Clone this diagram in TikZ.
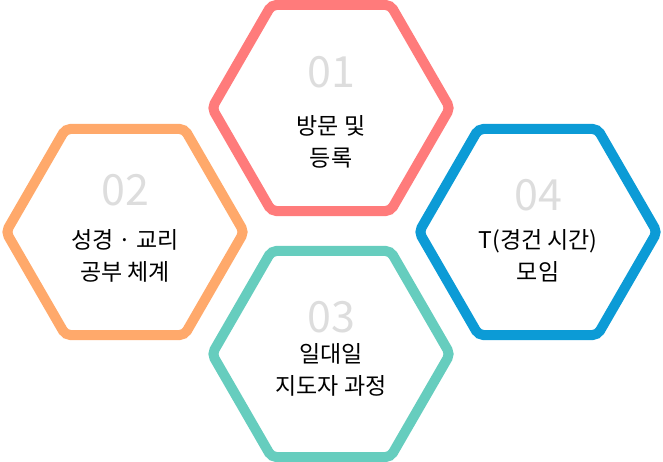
\documentclass[tikz,border=0pt]{standalone}
\usepackage{fontspec}
\setmainfont{Noto Sans CJK KR}
\usetikzlibrary{shapes.geometric}
\definecolor{c01}{HTML}{FF7B7B}
\definecolor{c02}{HTML}{FFA96B}
\definecolor{c03}{HTML}{66CDBE}
\definecolor{c04}{HTML}{0C9BD6}
\definecolor{numgray}{HTML}{DDDDDD}

\begin{document}
\begin{tikzpicture}[x=1pt,y=-1pt,
    hexa/.style={regular polygon,regular polygon sides=6,minimum size=238pt,
      line width=10pt,rounded corners=5pt,draw=#1,inner sep=0pt},
    num/.style={text=numgray,font=\fontsize{43}{43}\selectfont},
    label/.style={align=center,font=\fontsize{23}{32}\selectfont}]
    \useasboundingbox (0,0) rectangle (663,462);
    \node[hexa=c01] (h1) at (331,108) {};
    \node[hexa=c02] (h2) at (125,232) {};
    \node[hexa=c03] (h3) at (331,354) {};
    \node[hexa=c04] (h4) at (538,232) {};

    \node[num]   (n1) at (331,72)  {01};
    \node[label] (t1) at (331,142) {방문 및\\등록};
    \node[num]   (n2) at (125,190) {02};
    \node[label] (t2) at (125,256) {성경 · 교리\\공부 체계};
    \node[num]   (n3) at (331,317) {03};
    \node[label] (t3) at (331,370) {일대일\\지도자 과정};
    \node[num]   (n4) at (538,195) {04};
    \node[label] (t4) at (538,256) {T(경건 시간)\\모임};
\end{tikzpicture}
\end{document}
